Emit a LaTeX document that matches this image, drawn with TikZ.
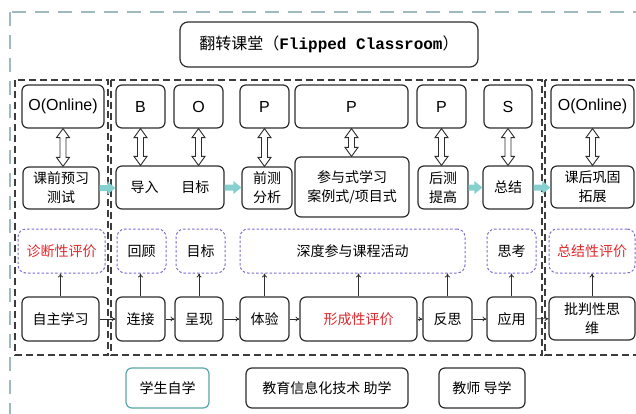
\documentclass[tikz,border=0pt]{standalone}
\usepackage{fontspec}
\setmainfont{Liberation Sans}
\newfontfamily\cjk{Noto Sans CJK SC}
\newfontfamily\monof{Liberation Mono}
\usetikzlibrary{calc,arrows.meta}
\definecolor{outerc}{RGB}{160,185,190}
\definecolor{panelc}{RGB}{60,60,60}
\definecolor{boxc}{RGB}{45,45,45}
\definecolor{evc}{RGB}{120,110,210}
\definecolor{redc}{RGB}{225,40,45}
\definecolor{tealc}{RGB}{90,165,165}
\definecolor{tealfill}{RGB}{135,208,208}
\newcommand\bx[7]{\node[#6, minimum width={(#4-#2)*1pt}, minimum height={(#5-#3)*1pt}] (#1) at ({(#2+#4)/2},{(#3+#5)/2}) {#7};}
\newcommand\hdbl[2]{\draw[dbl] let \p1=(#1.south), \p2=(#2.north) in
  (\x1,\y1) -- (\x1-6.5pt,\y1-9pt) -- (\x1-3pt,\y1-9pt) -- (\x1-3pt,\y2+9pt) -- (\x1-6.5pt,\y2+9pt) -- (\x1,\y2)
  -- (\x1+6.5pt,\y2+9pt) -- (\x1+3pt,\y2+9pt) -- (\x1+3pt,\y1-9pt) -- (\x1+6.5pt,\y1-9pt) -- cycle;}
\newcommand\tarr[2]{\fill[tealfill] let \p1=(#1.east), \p2=(#2.west) in
  (\x1,\y1+3pt) -- (\x2-8pt,\y1+3pt) -- (\x2-8pt,\y1+6.5pt) -- (\x2,\y1) -- (\x2-8pt,\y1-6.5pt) -- (\x2-8pt,\y1-3pt) -- (\x1,\y1-3pt) -- cycle;}
\begin{document}
\begin{tikzpicture}[x=1pt,y=-1pt,
 box/.style={draw=boxc, line width=1.2pt, rounded corners=6pt, fill=white, align=center, inner sep=0pt, font=\cjk\fontsize{14}{19}\selectfont},
 lbox/.style={box, font=\fontsize{16}{18}\selectfont},
 evbox/.style={draw=evc, line width=1pt, dash pattern=on 2.5pt off 2pt, rounded corners=8pt, align=center, inner sep=0pt, font=\cjk\fontsize{14}{19}\selectfont},
 harr/.style={draw=boxc, line width=0.8pt, -{To[length=4pt,width=5pt]}},
 panel/.style={draw=panelc, line width=1.4pt, dash pattern=on 7pt off 4pt},
 outer/.style={draw=outerc, line width=1.8pt, dash pattern=on 14pt off 9pt},
 dbl/.style={draw=boxc, line width=0.9pt, fill=white}
]
\useasboundingbox (0,0) rectangle (636,414);
\begin{scope}
\clip (0,0) rectangle (636,414);
\draw[outer] (10,12) rectangle (700,480);
\draw[panel] (15,80) rectangle (108,355);
\draw[panel] (111,80) rectangle (542,355);
\draw[panel] (545,80) rectangle (700,355);
\end{scope}
% title
\bx{title}{180}{22}{478}{67}{box, rounded corners=8pt, font=\cjk\fontsize{16}{18}\selectfont}{翻转课堂（{\monof\bfseries\fontsize{16}{18}\selectfont Flipped Classroom}）}
% row 1
\bx{o1}{22}{85}{104}{128}{lbox}{O(Online)}
\bx{b}{116}{85}{165}{128}{lbox}{B}
\bx{o2}{174}{85}{223}{128}{lbox}{O}
\bx{p1}{240}{85}{289}{128}{lbox}{P}
\bx{p2}{295}{85}{408}{128}{lbox}{P}
\bx{p3}{417}{85}{466}{128}{lbox}{P}
\bx{s}{484}{85}{532}{128}{lbox}{S}
\bx{o3}{551}{85}{634}{128}{lbox}{O(Online)}
% row 2
\bx{pre}{23}{167}{99}{209}{box}{课前预习\\测试}
\bx{intro}{116}{166}{224}{209}{box}{导入\hspace{23pt}目标}
\bx{ana}{242}{167}{292}{209}{box}{前测\\分析}
\bx{part}{295}{157}{409}{217}{box}{参与式学习\\案例式/项目式}
\bx{post}{418}{166}{468}{209}{box}{后测\\提高}
\bx{sum}{483}{166}{533}{209}{box}{总结}
\bx{after}{551}{166}{634}{208}{box}{课后巩固\\拓展}
% row 3
\bx{diag}{18}{229}{105}{273}{evbox, text=redc}{诊断性评价}
\bx{rev}{117}{229}{166}{273}{evbox}{回顾}
\bx{goal}{176}{229}{225}{273}{evbox}{目标}
\bx{deep}{240}{229}{465}{273}{evbox}{深度参与课程活动}
\bx{think}{487}{229}{536}{273}{evbox}{思考}
\bx{summ}{549}{229}{635}{273}{evbox, text=redc}{总结性评价}
% row 4
\bx{self}{22}{297}{99}{341}{box}{自主学习}
\bx{conn}{116}{297}{165}{341}{box}{连接}
\bx{show}{175}{297}{223}{341}{box}{呈现}
\bx{exp}{240}{297}{289}{341}{box}{体验}
\bx{form}{300}{297}{417}{341}{box, text=redc}{形成性评价}
\bx{refl}{423}{297}{472}{341}{box}{反思}
\bx{appl}{487}{297}{536}{341}{box}{应用}
\bx{crit}{549}{297}{635}{340}{box}{批判性思\\维}
% bottom
\bx{stu}{126}{368}{209}{408}{box, draw=tealc}{学生自学}
\bx{tech}{246}{368}{408}{408}{box}{教育信息化技术 助学}
\bx{tea}{439}{368}{525}{408}{box}{教师 导学}
% hollow double arrows
\hdbl{o1}{pre}
\hdbl{b}{intro}
\hdbl{o2}{intro}
\hdbl{p1}{ana}
\hdbl{p2}{part}
\hdbl{p3}{post}
\hdbl{s}{sum}
\hdbl{o3}{after}
% teal block arrows
\tarr{pre}{intro}
\tarr{intro}{ana}
\tarr{post}{sum}
\tarr{sum}{after}
% row 4 chain
\draw[harr] (self) -- (conn);
\draw[harr] (conn) -- (show);
\draw[harr] (show) -- (exp);
\draw[harr] (exp) -- (form);
\draw[harr] (form) -- (refl);
\draw[harr] (refl) -- (appl);
\draw[harr] (appl) -- (crit);
% up arrows
\draw[harr] (self.north) -- (self.north |- diag.south);
\draw[harr] (conn.north) -- (conn.north |- rev.south);
\draw[harr] (show.north) -- (show.north |- goal.south);
\draw[harr] (exp.north) -- (exp.north |- deep.south);
\draw[harr] (form.north) -- (form.north |- deep.south);
\draw[harr] (refl.north) -- (refl.north |- deep.south);
\draw[harr] (appl.north) -- (appl.north |- think.south);
\draw[harr] (crit.north) -- (crit.north |- summ.south);
\end{tikzpicture}
\end{document}
